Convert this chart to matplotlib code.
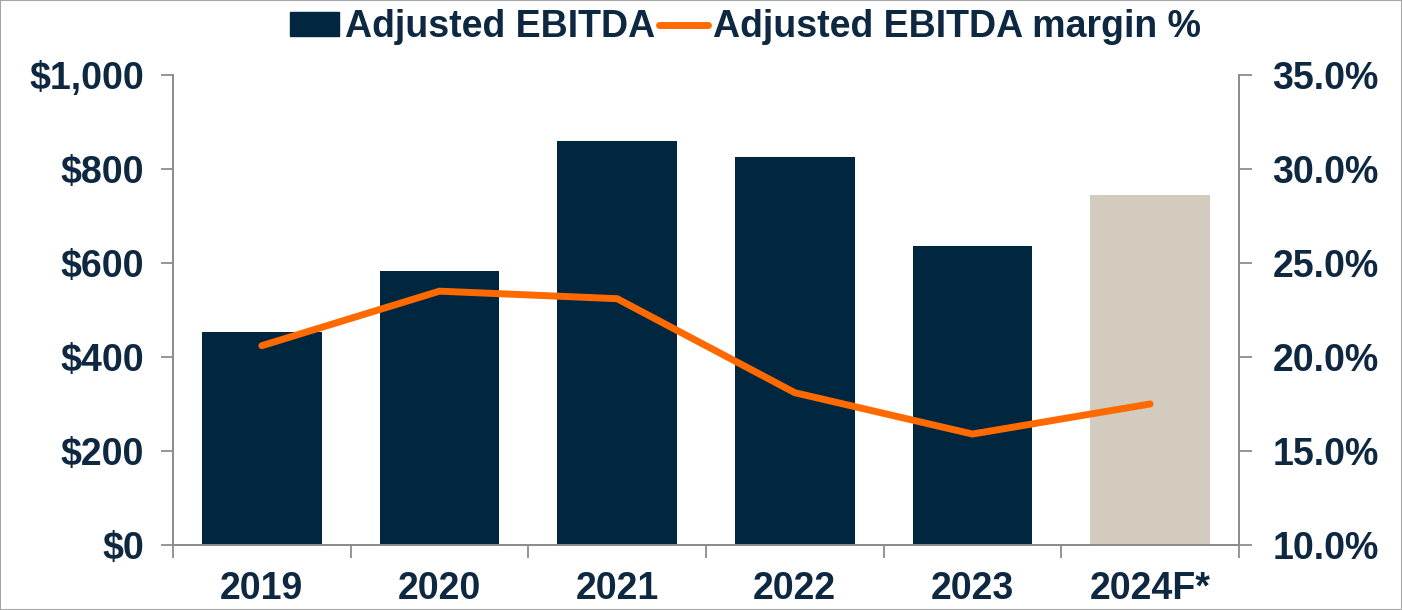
import numpy as np
import matplotlib
matplotlib.use("Agg")
import matplotlib.pyplot as plt
from matplotlib.patches import Patch, Rectangle
from matplotlib.lines import Line2D

years = ["2019", "2020", "2021", "2022", "2023", "2024F*"]
ebitda = [453, 583, 860, 825, 637, 745]
margin = [20.6, 23.5, 23.1, 18.1, 15.9, 17.5]

navy = "#01263F"
beige = "#D3CBBD"
orange = "#FF6A00"
txt = "#0E2841"
grey = "#8C8C8C"

plt.rcParams['font.family'] = ['Liberation Sans', 'DejaVu Sans']
plt.rcParams['font.weight'] = 'bold'

fig = plt.figure(figsize=(14.02, 6.10), dpi=100)
ax = fig.add_axes([0.1234, 0.1066, 0.7603, 0.7705])

x = np.arange(len(years))
colors = [navy] * 5 + [beige]
ax.bar(x, ebitda, width=0.675, color=colors, zorder=2)
ax.set_xlim(-0.5, 5.5)
ax.set_ylim(0, 1000)
ax.set_yticks(np.arange(0, 1001, 200))
ax.set_yticklabels(["$" + format(v, ",") for v in range(0, 1001, 200)])

# category boundaries get the tick marks, labels sit at centres
ax.set_xticks(np.arange(-0.5, 6.0, 1.0))
ax.set_xticklabels([])
ax.set_xticks(x, minor=True)
ax.set_xticklabels(years, minor=True)
ax.tick_params(axis="x", which="major", length=9, width=1.3, color=grey, direction="out")
ax.tick_params(axis="x", which="minor", length=0, pad=19, labelsize=27, labelcolor=txt)
ax.tick_params(axis="y", length=9, width=1.3, color=grey, pad=12, labelsize=27, labelcolor=txt)

ax2 = ax.twinx()
ax2.plot(x, margin, color=orange, lw=5, solid_capstyle="round", solid_joinstyle="miter", zorder=3)
ax2.set_ylim(10, 35)
ax2.set_yticks(np.arange(10, 36, 5))
ax2.set_yticklabels([f"{v:.1f}%" for v in range(10, 36, 5)])
ax2.tick_params(axis="y", length=9, width=1.3, color=grey, pad=15, labelsize=27, labelcolor=txt)

for a in (ax, ax2):
    a.spines["top"].set_visible(False)
    for s in ("left", "right", "bottom"):
        a.spines[s].set_color(grey)
        a.spines[s].set_linewidth(1.3)

handles = [Patch(color=navy), Line2D([0], [0], color=orange, lw=5, solid_capstyle="round")]
fig.legend(handles, ["Adjusted EBITDA", "Adjusted EBITDA margin %"],
           loc="center", bbox_to_anchor=(0.532, 0.955), ncol=2, frameon=False,
           fontsize=27, handlelength=1.3, handleheight=0.6, handletextpad=0.15,
           columnspacing=0.1, labelcolor=txt)

fig.patches.append(Rectangle((0, 0), 1, 1, transform=fig.transFigure, fill=False,
                             edgecolor="#A6A6A6", lw=1.5))

fig.savefig("out.png", dpi=100)
